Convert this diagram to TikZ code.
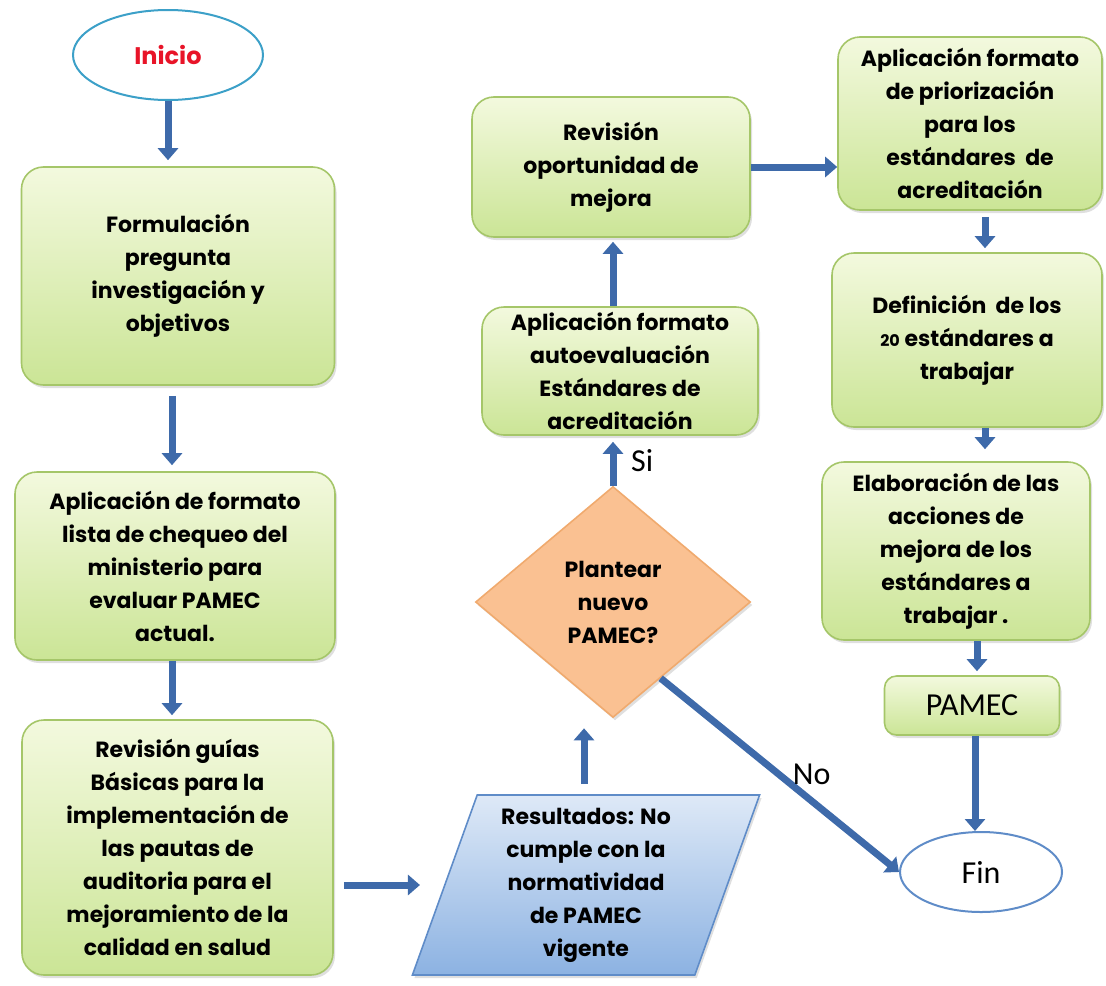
\documentclass[tikz,border=0pt]{standalone}
\usepackage{fontspec}
\setmainfont{Poppins}
\newfontfamily\calib{Carlito}
\usetikzlibrary{arrows.meta,positioning,shapes.geometric,shadows}
\definecolor{verdeA}{RGB}{243,249,222}
\definecolor{verdeB}{RGB}{203,229,150}
\definecolor{bordeverde}{RGB}{165,198,105}
\definecolor{azulA}{RGB}{222,233,247}
\definecolor{azulB}{RGB}{140,178,226}
\definecolor{bordeazul}{RGB}{95,140,200}
\definecolor{naranja}{RGB}{250,193,146}
\definecolor{bordenaranja}{RGB}{240,170,110}
\definecolor{flechaazul}{RGB}{62,106,170}
\definecolor{rojo}{RGB}{232,20,40}
\definecolor{turquesa}{RGB}{60,160,200}

\begin{document}
\begin{tikzpicture}
		[x=0.5pt,y=-0.5pt,
		caja/.style={draw=bordeverde,line width=0.8pt,rounded corners=11pt,top color=verdeA,bottom color=verdeB,
			align=center,font=\bfseries\fontsize{11}{16.5}\selectfont,inner sep=2pt,
			drop shadow={shadow xshift=1pt,shadow yshift=-1.5pt,opacity=0.25}},
		elipse/.style={ellipse,draw,line width=1pt,fill=white},
		flecha/.style={draw=flechaazul,line width=3.5pt,-{Triangle[width=10pt,length=6pt]}},
		etiqueta/.style={font=\calib\fontsize{16}{18}\selectfont}]
		\useasboundingbox (0,0) rectangle (1106,985);
		
		\node[elipse,draw=turquesa,minimum width=95pt,minimum height=45pt,font=\bfseries\fontsize{12}{14}\selectfont,text=rojo] (0) at (168,55) {Inicio};
		\node[caja,minimum width=156.5pt,minimum height=109pt] (1) at (178,276) {Formulación\\pregunta\\investigación y\\objetivos};
		\node[caja,minimum width=160pt,minimum height=94pt] (2) at (175,566) {Aplicación de formato\\lista de chequeo del\\ministerio para\\evaluar PAMEC\\actual.};
		\node[caja,minimum width=155.5pt,minimum height=127.5pt] (3) at (177.5,847.5) {Revisión guías\\Básicas para la\\implementación de\\las pautas de\\auditoria para el\\mejoramiento de la\\calidad en salud};
		\node[trapezium,trapezium left angle=72,trapezium right angle=108,trapezium stretches=true,
			minimum width=174pt,minimum height=90pt,draw=bordeazul,line width=0.8pt,top color=azulA,bottom color=azulB,
			align=center,font=\bfseries\fontsize{11}{16.5}\selectfont,
			drop shadow={shadow xshift=1pt,shadow yshift=-1.5pt,opacity=0.25}] (r) at (586,885) {Resultados: No\\cumple con la\\normatividad\\de PAMEC\\vigente};
		\node[diamond,minimum width=137.5pt,minimum height=115.5pt,draw=bordenaranja,line width=0.8pt,fill=naranja,
			align=center,font=\bfseries\fontsize{11}{16.5}\selectfont,inner sep=0pt,
			drop shadow={shadow xshift=1pt,shadow yshift=-1.5pt,opacity=0.25}] (4) at (613,602) {Plantear\\nuevo\\PAMEC?};
		\node[caja,minimum width=138pt,minimum height=64pt] (5) at (620,371) {Aplicación formato\\autoevaluación\\Estándares de\\acreditación};
		\node[caja,minimum width=139pt,minimum height=70pt] (6) at (611,167) {Revisión\\oportunidad de\\mejora};
		\node[caja,minimum width=132pt,minimum height=86.5pt] (7) at (970,123.5) {Aplicación formato\\de priorización\\para los\\estándares\ \ de\\acreditación};
		\node[caja,minimum width=135pt,minimum height=87pt] (8) at (967,340) {Definición\ \ de los\\{\fontsize{8}{10}\selectfont 20} estándares a\\trabajar};
		\node[caja,minimum width=134pt,minimum height=89pt] (9) at (956,551) {Elaboración de las\\acciones de\\mejora de los\\estándares a\\trabajar .};
		\node[caja,minimum width=87.5pt,minimum height=29.5pt,rounded corners=6pt,font=\calib\fontsize{16}{18}\selectfont] (10) at (972,705.5) {PAMEC};
		\node[elipse,draw=bordeazul,minimum width=81pt,minimum height=40pt,font=\calib\fontsize{16}{18}\selectfont] (11) at (981,872) {Fin};
		
		\draw[flecha,shorten >=3pt] (0.south) to (0.south |- 1.north);
		\draw[flecha,shorten <=5pt,shorten >=3pt] ([xshift=-3pt]1.south) to ([xshift=-3pt]1.south |- 2.north);
		\draw[flecha,shorten >=2pt] ([xshift=-1.5pt]2.south) to ([xshift=-1.5pt]2.south |- 3.north);
		\draw[flecha,shorten <=5pt,shorten >=12pt] (3.east |- r.west) to (r.west);
		\draw[flecha,shorten <=5pt,shorten >=5pt] ([xshift=-1pt]r.north) to ([xshift=-1pt]r.north |- 4.south);
		\draw[flecha,shorten >=3pt] (4.north) to node[etiqueta,right=4pt] {Si} (4.north |- 5.south);
		\draw[flecha,shorten >=2pt] (5.north -| 4.north) to (4.north |- 6.south);
		\draw[flecha] (6.east) to (6.east -| 7.west);
		\draw[flecha,shorten <=3pt,shorten >=2pt] ([xshift=7.5pt]7.south) to ([xshift=7.5pt]7.south |- 8.north);
		\draw[flecha,shorten >=6pt] ([xshift=9pt]8.south) to ([xshift=9pt]8.south |- 9.north);
		\draw[flecha,shorten >=2pt] ([xshift=10.5pt]9.south) to ([xshift=10.5pt]9.south |- 10.north);
		\draw[flecha] ([xshift=1.5pt]10.south) to ([xshift=1.5pt]10.south |- 11.north);
		\draw[flecha] (4.-58) to node[etiqueta,pos=0.6,above,xshift=4pt] {No} (11.west);
		\end{tikzpicture}
\end{document}
